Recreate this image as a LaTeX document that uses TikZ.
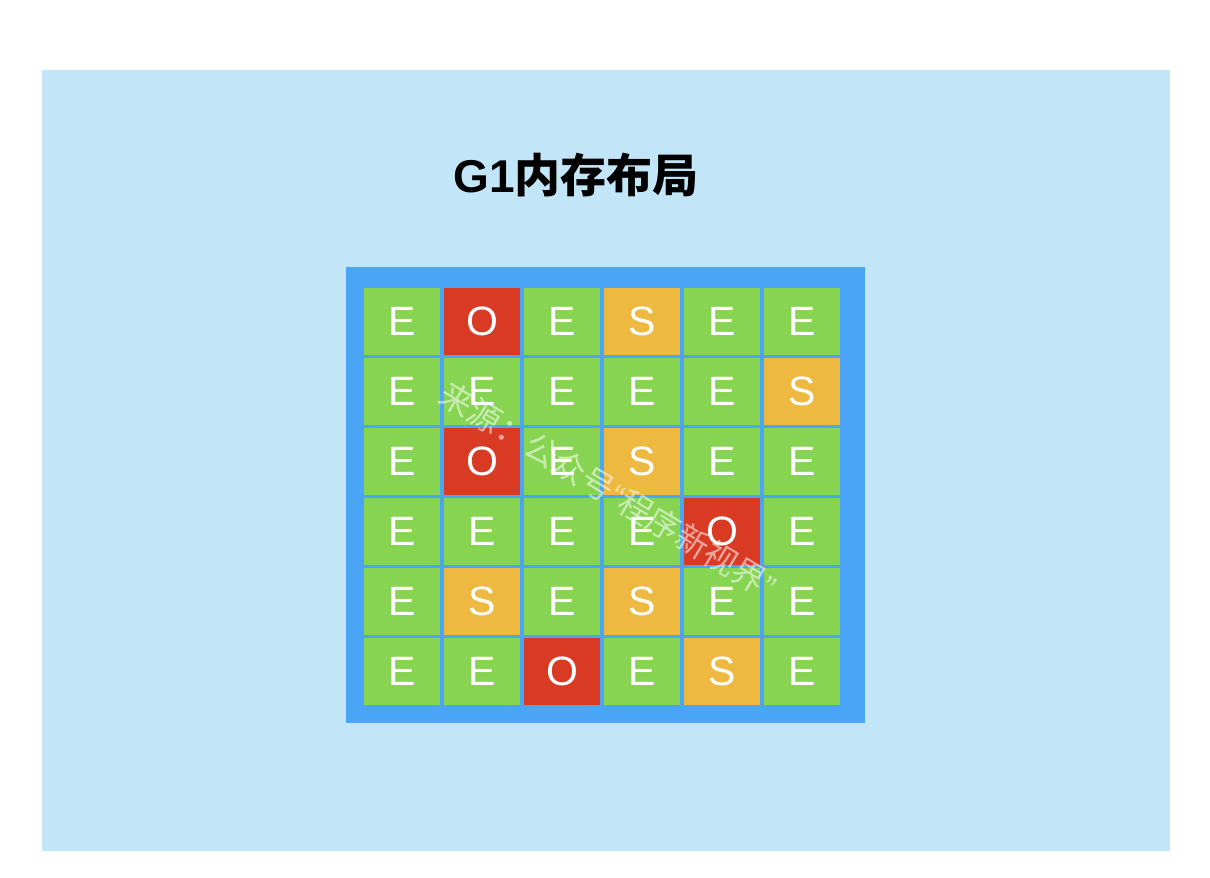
\documentclass[tikz,border=0pt]{standalone}
\usepackage{fontspec}
\setmainfont{Liberation Sans}
\newfontfamily\cjk{Noto Sans CJK SC}
\usetikzlibrary{positioning}
\definecolor{bgblue}{RGB}{194,230,247}
\definecolor{frameblue}{RGB}{74,165,246}
\definecolor{edengreen}{RGB}{134,212,82}
\definecolor{oldred}{RGB}{217,58,36}
\definecolor{survorange}{RGB}{238,185,64}

\begin{document}
\begin{tikzpicture}[x=1pt,y=-1pt,
  region/.style={minimum width=76pt,minimum height=67pt,inner sep=0pt,
    text=white,font=\fontsize{41}{41}\selectfont},
  regE/.style={region,fill=edengreen},
  regO/.style={region,fill=oldred},
  regS/.style={region,fill=survorange}]
%%
\useasboundingbox (0,0) rectangle (1210,878);
\fill[bgblue] (42,70) rectangle (1170,851);
\fill[frameblue] (346,267) rectangle (865,723);
\node (title) at (576,175) {\fontsize{46}{46}\selectfont\bfseries G1{\cjk\bfseries 内存布局}};
% regions, row by row
\foreach \row/\list in {1/{E,O,E,S,E,E},2/{E,E,E,E,E,S},3/{E,O,E,S,E,E},
                        4/{E,E,E,E,O,E},5/{E,S,E,S,E,E},6/{E,E,O,E,S,E}}
  \foreach \t [count=\col] in \list
    \node[reg\t] (c\row\col) at ({402+80*(\col-1)},{321+70*(\row-1)}) {\t};
%\node (mark)
\node[rotate=-31,text=white,opacity=0.55,font=\cjk\fontsize{33}{33}\selectfont]
  (mark) at (608,490) {来源：公众号{\rmfamily“}程序新视界{\rmfamily”}};
\end{tikzpicture}
\end{document}
